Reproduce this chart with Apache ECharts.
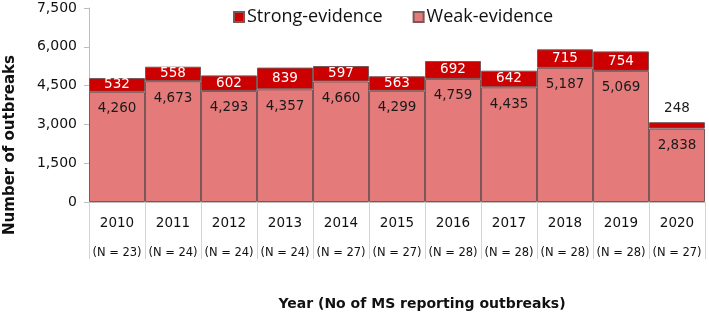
<!DOCTYPE html>
<html>
<head>
<meta charset="utf-8">
<script src="https://cdn.jsdelivr.net/npm/echarts@6/dist/echarts.min.js"></script>
<style>
  html, body { margin: 0; padding: 0; background: #fff; }
  #chart { width: 709px; height: 313px; }
</style>
</head>
<body>
<div id="chart"></div>
<script>
const years = ['2010', '2011', '2012', '2013', '2014', '2015', '2016', '2017', '2018', '2019', '2020'];
const msCounts = [23, 24, 24, 24, 27, 27, 28, 28, 28, 28, 27];
const weakEvidence = [4260, 4673, 4293, 4357, 4660, 4299, 4759, 4435, 5187, 5069, 2838];
const strongEvidence = [532, 558, 602, 839, 597, 563, 692, 642, 715, 754, 248];
const yTicks = [0, 1500, 3000, 4500, 6000, 7500];

const chart = echarts.init(document.getElementById('chart'));

const fmt = v => v.toLocaleString('en-US');

const option = {
    animation: false,
    textStyle: { fontFamily: 'DejaVu Sans' },
    legend: {
        top: 3,
        left: 228,
        itemWidth: 10,
        itemHeight: 10,
        itemGap: 30,
        icon: 'rect',
        textStyle: { fontFamily: 'Open Sans', fontSize: 18, color: '#111', padding: [0, 0, 0, -2] },
        data: ['Strong-evidence', 'Weak-evidence']
    },
    grid: { left: 89, right: 4, top: 8, bottom: 111, outerBoundsMode: 'none' },
    xAxis: {
        type: 'category',
        data: years,
        axisLine: { lineStyle: { color: '#bdbdbd' } },
        axisTick: { show: true, length: 57, interval: 0, lineStyle: { color: '#d4d4d4' } },
        axisLabel: {
            interval: 0,
            margin: 10,
            formatter: (v, i) => v + '\n{n|(N = ' + msCounts[i] + ')}',
            fontSize: 13.5,
            color: '#111',
            lineHeight: 22,
            rich: { n: { fontSize: 11.5, color: '#111', lineHeight: 38 } }
        },
        name: 'Year (No of MS reporting outbreaks)',
        nameLocation: 'middle',
        nameGap: 95,
        nameTextStyle: { fontSize: 14, fontWeight: 'bold', color: '#111', padding: [0, 0, 0, 50] }
    },
    yAxis: {
        type: 'value',
        min: 0,
        max: 7500,
        interval: 1500,
        axisLine: { show: true, lineStyle: { color: '#bdbdbd' } },
        axisTick: { show: true, length: 5, lineStyle: { color: '#bdbdbd' } },
        splitLine: { show: false },
        axisLabel: {
            fontSize: 14,
            color: '#111',
            margin: 12,
            formatter: v => yTicks.includes(v) ? fmt(v) : ''
        }
    },
    graphic: [{
        type: 'text',
        left: 3,
        top: 55,
        rotation: Math.PI / 2,
        style: {
            text: 'Number of outbreaks',
            fontFamily: 'DejaVu Sans',
            fontSize: 15,
            fontWeight: 'bold',
            fill: '#111'
        }
    }],
    series: [
        {
            name: 'Weak-evidence',
            type: 'bar',
            stack: 'total',
            barCategoryGap: '0%',
            data: weakEvidence,
            itemStyle: { color: '#e57a7b', borderColor: '#7a5858', borderWidth: 1 },
            label: {
                show: true,
                position: 'insideTop',
                distance: 10,
                color: '#1a1a1a',
                fontSize: 13.5,
                formatter: p => fmt(p.value)
            }
        },
        {
            name: 'Strong-evidence',
            type: 'bar',
            stack: 'total',
            barCategoryGap: '0%',
            data: strongEvidence.map((v, i) => i === strongEvidence.length - 1
                ? { value: v, label: { position: 'top', color: '#1a1a1a', distance: 7 } }
                : v),
            itemStyle: { color: '#cc0000', borderColor: '#7a5858', borderWidth: 1 },
            label: {
                show: true,
                position: 'inside',
                color: '#fff',
                fontSize: 13.5,
                formatter: p => fmt(p.value)
            }
        }
    ]
};

chart.setOption(option);
</script>
</body>
</html>
